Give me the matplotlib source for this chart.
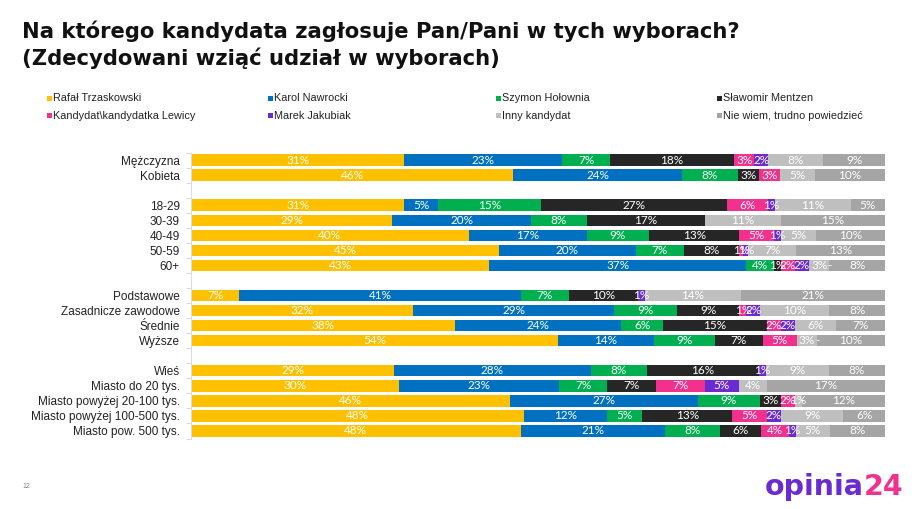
import matplotlib
matplotlib.use("Agg")
import matplotlib.pyplot as plt
from matplotlib.patches import Rectangle
import numpy as np

W, H = 915, 509

# ---------------- data ----------------
categories = ["Mężczyzna", "Kobieta",
              "18-29", "30-39", "40-49", "50-59", "60+",
              "Podstawowe", "Zasadnicze zawodowe", "Średnie", "Wyższe",
              "Wieś", "Miasto do 20 tys.", "Miasto powyżej 20-100 tys.",
              "Miasto powyżej 100-500 tys.", "Miasto pow. 500 tys."]
group_sizes = [2, 5, 4, 5]

series_names = ["Rafał Trzaskowski", "Karol Nawrocki", "Szymon Hołownia",
                "Sławomir Mentzen", "Kandydat\\kandydatka Lewicy",
                "Marek Jakubiak", "Inny kandydat", "Nie wiem, trudno powiedzieć"]

trzaskowski = [31, 46, 31, 29, 40, 45, 43, 7, 32, 38, 54, 29, 30, 46, 48, 48]
nawrocki    = [23, 24, 5, 20, 17, 20, 37, 41, 29, 24, 14, 28, 23, 27, 12, 21]
holownia    = [7, 8, 15, 8, 9, 7, 4, 7, 9, 6, 9, 8, 7, 9, 5, 8]
mentzen     = [18, 3, 27, 17, 13, 8, 1, 10, 9, 15, 7, 16, 7, 3, 13, 6]
lewica      = [3, 3, 6, 0, 5, 0.7, 2, 0, 1, 2, 5, 0, 7, 2, 5, 4]
jakubiak    = [2, 0, 1, 0, 1, 0.7, 2, 1, 2, 2, 0, 1, 5, 0, 2, 1]
inny        = [8, 5, 11, 11, 5, 7, 3, 14, 10, 6, 3, 9, 4, 1, 9, 5]
# hidden series without legend entry (0 shown as "-")
brak        = [None, None, None, None, None, None, 0, None, None, None, 0,
               None, None, 0, None, None]
niewiem     = [9, 10, 5, 15, 10, 13, 8, 21, 8, 7, 10, 8, 17, 12, 6, 8]

colors = ["#FFC000", "#0070C0", "#00B050", "#262626", "#F2308E",
          "#6A2BD3", "#BFBFBF", "#A5A5A5"]

# ---------------- figure ----------------
fig = plt.figure(figsize=(W / 100, H / 100), dpi=100)
fig.patch.set_facecolor("white")

def fx(px):
    return px / W

def fy(py):
    return 1 - py / H

ax = fig.add_axes([fx(191), fy(438.5), fx(885) - fx(191), fy(152.5) - fy(438.5)])

# positions with spacer slots between groups
ypos = []
slot = 0
for gi, g in enumerate(group_sizes):
    for _ in range(g):
        ypos.append(slot)
        slot += 1
    if gi < len(group_sizes) - 1:
        slot += 1
nslots = slot
ypos = np.array(ypos)

all_series = [trzaskowski, nawrocki, holownia, mentzen, lewica, jakubiak, inny, brak, niewiem]
all_colors = colors[:7] + ["#BFBFBF"] + [colors[7]]

vals = np.array([[0 if v is None else v for v in s] for s in all_series], dtype=float)
totals = vals.sum(axis=0)
norm = vals / totals * 100

left = np.zeros(len(categories))
label_font = dict(family="Lato", fontsize=8.5, color="white")
for si, s in enumerate(all_series):
    w = norm[si]
    ax.barh(ypos, w, left=left, height=0.76, color=all_colors[si], linewidth=0)
    for ri, v in enumerate(s):
        if v is None:
            continue
        if si == 7:
            txt = "-"
        elif v == 0:
            continue
        else:
            txt = f"{int(round(v))}%"
        ax.text(left[ri] + w[ri] / 2, ypos[ri], txt, ha="center", va="center", **label_font)
    left = left + w

ax.set_xlim(0, 100)
ax.set_ylim(nslots - 0.5, -0.5)
ax.set_xticks([])
ax.set_yticks(ypos)
ax.set_yticklabels(categories, family="Liberation Sans", fontsize=8.5, color="#222222")
ax.set_yticks(np.arange(-0.5, nslots, 1.0), minor=True)
ax.tick_params(axis="y", which="major", length=0, pad=8)
ax.tick_params(axis="y", which="minor", length=3.5, color="#D5DCE4", width=0.8)
for sp in ["top", "right", "bottom"]:
    ax.spines[sp].set_visible(False)
ax.spines["left"].set_color("#D5DCE4")
ax.spines["left"].set_linewidth(0.8)
ax.set_facecolor("none")

# ---------------- title ----------------
fig.text(fx(22), fy(21), "Na którego kandydata zagłosuje Pan/Pani w tych wyborach?\n(Zdecydowani wziąć udział w wyborach)",
         ha="left", va="top", fontsize=15.2, fontweight="bold", family="DejaVu Sans",
         color="#111111", linespacing=1.3)

# ---------------- legend ----------------
col_x = [47, 268, 496, 717]
row_y = [98, 116]
for i, name in enumerate(series_names):
    r, c = divmod(i, 4)
    x0, y0 = col_x[c], row_y[r]
    fig.add_artist(Rectangle((fx(x0), fy(y0 + 2.5)), 5 / W, 5 / H,
                             transform=fig.transFigure, color=colors[i], linewidth=0))
    fig.text(fx(x0 + 6), fy(y0), name, ha="left", va="center",
             family="Liberation Sans", fontsize=7.8, color="#222222")

# ---------------- footer ----------------
fig.text(fx(22), fy(487), "12", ha="left", va="center", fontsize=5, color="#888888",
         family="Liberation Sans")

t1 = fig.text(fx(765), fy(495), "opinia", ha="left", va="baseline", fontsize=20.5,
              fontweight="bold", family="DejaVu Sans", color="#6A2BD3")
fig.canvas.draw()
bb = t1.get_window_extent(renderer=fig.canvas.get_renderer())
fig.text(bb.x1 / W, fy(495), "24", ha="left", va="baseline", fontsize=20.5,
         fontweight="bold", family="DejaVu Sans", color="#F2308E")

fig.savefig("out.png", dpi=100, facecolor="white")
